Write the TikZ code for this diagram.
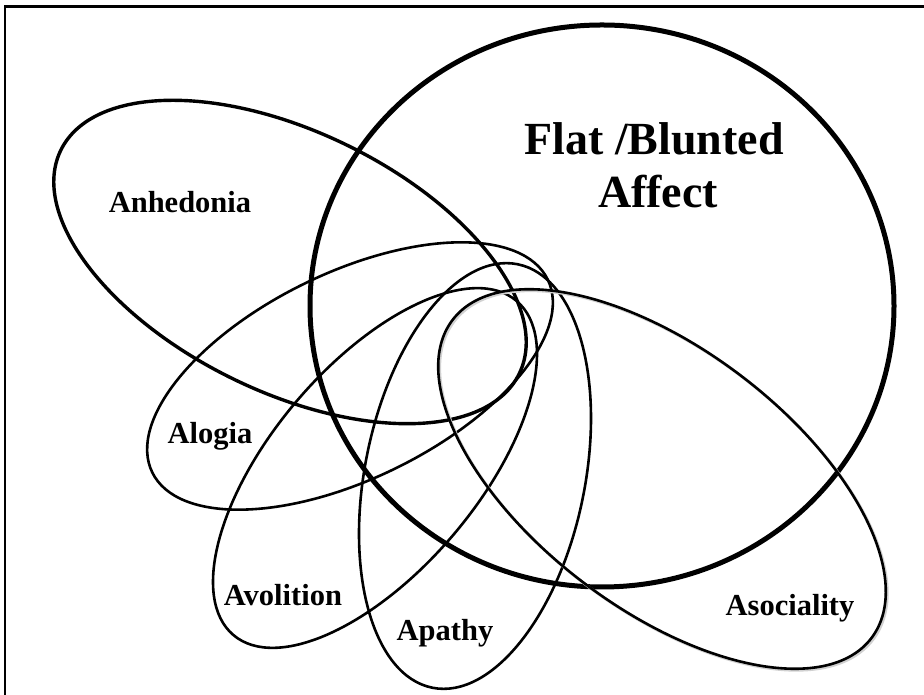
\documentclass[tikz,border=0pt]{standalone}
\usepackage{fontspec}
\setmainfont{Liberation Serif}
\tikzset{
  thin ell/.style={draw=black, line width=2.6pt},
  lbl/.style={anchor=base, inner sep=0pt, font=\bfseries\fontsize{30.5}{36}\selectfont},
  big lbl/.style={anchor=base, inner sep=0pt, font=\bfseries\fontsize{46}{53}\selectfont},
}
\begin{document}
\begin{tikzpicture}[x=1pt,y=1pt]
\useasboundingbox (0,0) rectangle (924,695);
% frame (right and bottom edges fall outside the picture)
\draw[line width=2.2pt] (5,-10) -- (5,688.5) -- (940,688.5);
% Flat / Blunted Affect
\draw[line width=5pt] (602,389) ellipse [x radius=292pt, y radius=281pt];
% Anhedonia
\draw[line width=3.4pt, rotate around={-26:(290,433)}] (290,433) ellipse [x radius=255pt, y radius=130pt];
% Alogia
\draw[thin ell, rotate around={26:(350,319)}] (350,319) ellipse [x radius=220pt, y radius=103pt];
% Avolition
\draw[thin ell, rotate around={49.7:(375,227)}] (375,227) ellipse [x radius=219pt, y radius=103pt];
% Apathy
\draw[thin ell, rotate around={78.6:(475,219)}] (475,219) ellipse [x radius=216pt, y radius=110pt];
% Asociality (with soft shadow)
\draw[black!18, line width=2.8pt, rotate around={-37.2:(663.5,214.5)}] (663.5,214.5) ellipse [x radius=263pt, y radius=130pt];
\draw[thin ell, rotate around={-37.2:(662,216)}] (662,216) ellipse [x radius=263pt, y radius=130pt];
% labels
\node[big lbl] (flat) at (654,540) {Flat /Blunted};
\node[big lbl] (affect) at (658,487) {Affect};
\node[lbl] (anh) at (180,482) {Anhedonia};
\node[lbl] (alo) at (210,251) {Alogia};
\node[lbl] (avo) at (283,89) {Avolition};
\node[lbl] (apa) at (445,54) {Apathy};
\node[lbl] (aso) at (790,79) {Asociality};
\end{tikzpicture}
\end{document}
